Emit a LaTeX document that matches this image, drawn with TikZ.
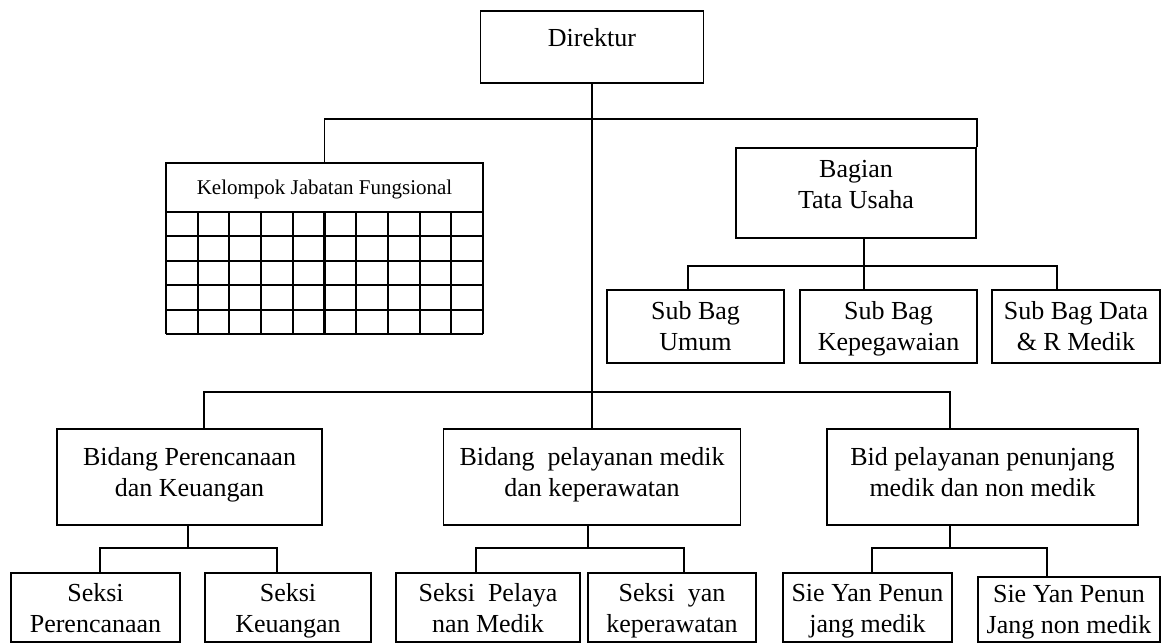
\documentclass[tikz,border=0pt]{standalone}
\usepackage{fontspec}
\setmainfont{Liberation Serif}
\begin{document}
\begin{tikzpicture}[
    x=1pt,
    y=-1pt,
    font=\fontsize{26}{31}\selectfont,
    kotak/.style={draw, line width=1.8pt, align=center, inner sep=0pt},
    garis/.style={line width=1.6pt},
    sel/.style={line width=2.1pt}
  ]
  \useasboundingbox (0,0) rectangle (1164,644);

  % ---- pimpinan --------------------------------------------------
  \node[kotak, minimum width=223pt, text height=36pt, text depth=36pt] (dir) at (592,47) {Direktur};

  % ---- kelompok jabatan fungsional -------------------------------
  \node[kotak, minimum width=317pt, text height=32pt, text depth=17pt, font=\fontsize{21}{25}\selectfont] (kel) at (324.5,187.5) {Kelompok Jabatan Fungsional};
  \foreach \i in {0,...,10} {
      \draw[sel] (166+\i*31.7,212) -- (166+\i*31.7,334);
    }
  \foreach \j in {1,...,5} {
      \draw[sel] (166,212+\j*24.4) -- (483,212+\j*24.4);
    }

  % ---- tata usaha ------------------------------------------------
  \node[kotak, minimum width=240pt, text height=61pt, text depth=29pt] (bag) at (856,193) {Bagian\\Tata Usaha};
  \node[kotak, minimum width=177pt, text height=60pt, text depth=13pt] (sub1) at (695.5,326.5) {Sub Bag\\Umum};
  \node[kotak, minimum width=177pt, text height=60pt, text depth=13pt] (sub2) at (888.5,326.5) {Sub Bag\\Kepegawaian};
  \node[kotak, minimum width=168pt, text height=60pt, text depth=13pt] (sub3) at (1076,326.5) {Sub Bag Data\\\& R Medik};

  % ---- bidang ----------------------------------------------------
  \node[kotak, minimum width=265pt, text height=67pt, text depth=29pt] (bid1) at (189.5,477) {Bidang Perencanaan\\dan Keuangan};
  \node[kotak, minimum width=297pt, text height=67pt, text depth=29pt] (bid2) at (592,477) {Bidang~ pelayanan medik\\dan keperawatan};
  \node[kotak, minimum width=311pt, text height=67pt, text depth=29pt] (bid3) at (982.5,477) {Bid pelayanan penunjang\\medik dan non medik};

  % ---- seksi -----------------------------------------------------
  \node[kotak, minimum width=169pt, text height=59pt, text depth=10pt] (sek1) at (95.5,607.5) {Seksi\\Perencanaan};
  \node[kotak, minimum width=166pt, text height=59pt, text depth=10pt] (sek2) at (288,607.5) {Seksi\\Keuangan};
  \node[kotak, minimum width=184pt, text height=59pt, text depth=10pt] (sek3) at (488,607.5) {Seksi~ Pelaya\\nan Medik};
  \node[kotak, minimum width=168pt, text height=59pt, text depth=10pt] (sek4) at (672,607.5) {Seksi~ yan\\keperawatan};
  \node[kotak, minimum width=169pt, text height=59pt, text depth=10pt] (sie1) at (867.5,607.5) {Sie Yan Penun\\jang medik};
  \node[kotak, minimum width=182pt, text height=56pt, text depth=9pt] (sie2) at (1069,609.5) {Sie Yan Penun\\Jang non medik};

  % ---- titik cabang ----------------------------------------------
  \coordinate (atas) at (592,119);
  \coordinate (tengah) at (592,392);
  \coordinate (tu) at (864,266);
  \coordinate (pk) at (188,548);
  \coordinate (pm) at (588,548);
  \coordinate (pn) at (950,548);

  % ---- garis penghubung ------------------------------------------
  \draw[garis] (dir.south) -- (bid2.north);
  \draw[garis] (kel.north) |- (atas) -| (bag.north east);
  \draw[garis] ([xshift=14.5pt]bid1.north) |- (tengah) -| ([xshift=-32.5pt]bid3.north);

  \draw[garis] ([xshift=8pt]bag.south) -- ([xshift=-24.5pt]sub2.north);
  \draw[garis] ([xshift=-7.5pt]sub1.north) |- (tu) -| ([xshift=-19pt]sub3.north);

  \draw[garis] ([xshift=-1.5pt]bid1.south) -- (pk);
  \draw[garis] ([xshift=4.5pt]sek1.north) |- (pk) -| ([xshift=-11pt]sek2.north);
  \draw[garis] ([xshift=-4pt]bid2.south) -- (pm);
  \draw[garis] ([xshift=-12pt]sek3.north) |- (pm) -| ([xshift=12pt]sek4.north);
  \draw[garis] ([xshift=-32.5pt]bid3.south) -- (pn);
  \draw[garis] ([xshift=4.5pt]sie1.north) |- (pn) -| ([xshift=-22pt]sie2.north);
\end{tikzpicture}
\end{document}
